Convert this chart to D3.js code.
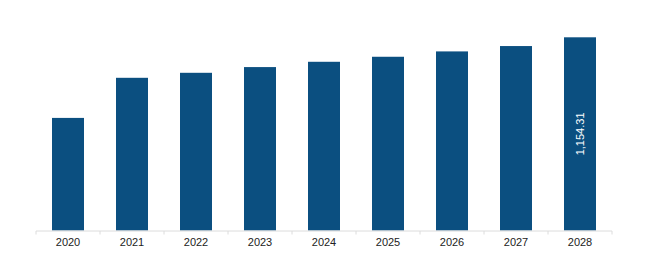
<!DOCTYPE html>
<html><head><meta charset="utf-8">
<script src="https://cdn.jsdelivr.net/npm/d3@7"></script>
<style>body{margin:0;background:#fff;}svg{display:block;}</style>
</head><body>
<svg id="c" width="650" height="267"></svg>
<script>
const years = ["2020","2021","2022","2023","2024","2025","2026","2027","2028"];
const values = [672.7, 912.3, 942.2, 976.4, 1008.0, 1038.0, 1070.0, 1102.0, 1154.31];
const labelIndex = [8];

const svg = d3.select("#c");
const x = d3.scaleBand().domain(years).range([36, 612]).paddingInner(0.5).paddingOuter(0.25);
const y = d3.scaleLinear().domain([0, 1154.31]).range([230.5, 37.3]);

svg.selectAll("rect.bar").data(years).enter().append("rect")
  .attr("class","bar")
  .attr("x", d => x(d))
  .attr("width", x.bandwidth())
  .attr("y", (d,i) => y(values[i]))
  .attr("height", (d,i) => y(0) - y(values[i]))
  .attr("fill", "#0b4f80");

const axis = d3.axisBottom(x).tickSize(0).tickPadding(8);
const g = svg.append("g").attr("transform","translate(0,230.5)").call(axis);
g.select(".domain").attr("stroke","#dcdcdc").attr("d","M36,0.5H612");
g.selectAll(".tick text").attr("font-family","Liberation Sans, Arial, sans-serif").attr("font-size","11px").attr("fill","#222");

// boundary ticks
const step = x.step();
const bounds = d3.range(years.length + 1).map(i => 36 + i * step);
g.selectAll("line.bt").data(bounds).enter().append("line")
  .attr("class","bt").attr("x1", d=>d).attr("x2", d=>d).attr("y1",0.5).attr("y2",4)
  .attr("stroke","#dcdcdc");

// value label
labelIndex.forEach(i => {
  const cx = x(years[i]) + x.bandwidth()/2;
  const cy = (y(values[i]) + y(0))/2;
  svg.append("text")
    .attr("transform", `translate(${cx + 4},${cy}) rotate(-90)`)
    .attr("text-anchor","middle")
    .attr("font-family","Liberation Sans, Arial, sans-serif")
    .attr("font-size","11px").attr("fill","#fff")
    .text(d3.format(",.2f")(values[i]));
});
</script>
</body></html>
